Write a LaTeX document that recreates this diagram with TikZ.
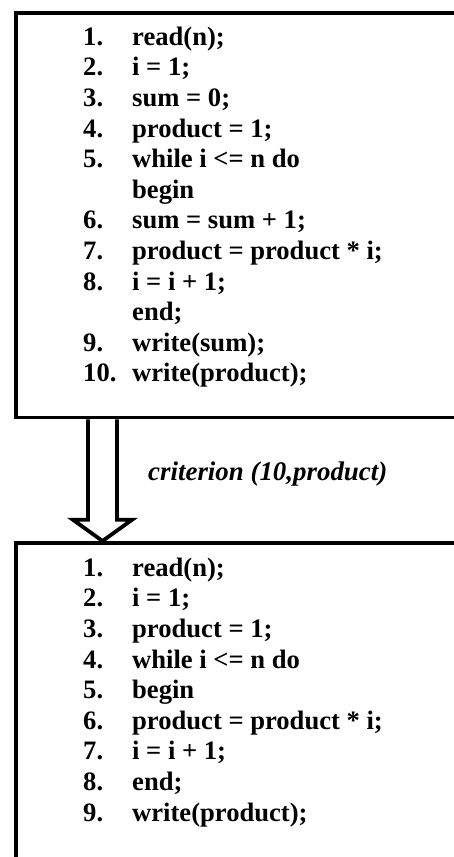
\documentclass[tikz,border=0pt]{standalone}
\usepackage{fontspec}
\setmainfont{Liberation Serif}
\usetikzlibrary{positioning,calc}
\tikzset{
  codebox/.style={rectangle,draw=black,line width=3.8pt,fill=white,anchor=north west,inner sep=0pt},
  listing/.style={anchor=base west,inner sep=0pt,font=\fontsize{26.6pt}{30.6pt}\selectfont\bfseries},
  hollow/.style={draw=black,line width=3.8pt,fill=white,line join=miter},
  critlabel/.style={anchor=base west,inner sep=0pt,font=\fontsize{26.9pt}{30pt}\selectfont\bfseries\itshape}
}
\newcommand{\lnum}[1]{\makebox[49pt][l]{#1}}
\begin{document}
\begin{tikzpicture}[x=1pt,y=1pt]
  \useasboundingbox (0,0) rectangle (454,-857);
  \node[codebox,minimum width=470pt,minimum height=404.5pt] (orig) at (14,-11) {};
  \node[codebox,minimum width=470pt,minimum height=340pt] (slice) at (14,-541) {};

  \node[listing] (origtext) at (83,-45.2) {%
    \begin{tabular}[t]{@{}l@{}}
      \lnum{1.}read(n);\\
      \lnum{2.}i = 1;\\
      \lnum{3.}sum = 0;\\
      \lnum{4.}product = 1;\\
      \lnum{5.}while i <= n do\\
      \lnum{}begin\\
      \lnum{6.}sum = sum + 1;\\
      \lnum{7.}product = product * i;\\
      \lnum{8.}i = i + 1;\\
      \lnum{}end;\\
      \lnum{9.}write(sum);\\
      \lnum{10.}write(product);
    \end{tabular}};
  \node[listing] (slicetext) at (83,-576.2) {%
    \begin{tabular}[t]{@{}l@{}}
      \lnum{1.}read(n);\\
      \lnum{2.}i = 1;\\
      \lnum{3.}product = 1;\\
      \lnum{4.}while i <= n do\\
      \lnum{5.}begin\\
      \lnum{6.}product = product * i;\\
      \lnum{7.}i = i + 1;\\
      \lnum{8.}end;\\
      \lnum{9.}write(product);
    \end{tabular}};

  % slicing arrow
  \coordinate (tail) at ($(orig.south west)+(88.5,0)$);
  \coordinate (tip) at ($(slice.north west)+(88.5,0)$);
  \draw[hollow] ($(tail)+(-14.5,0)$) -- ($(tail)+(-14.5,-100.5)$) -- ($(tail)+(-29.5,-100.5)$)
    -- (tip) -- ($(tail)+(29.5,-100.5)$) -- ($(tail)+(14.5,-100.5)$) -- ($(tail)+(14.5,0)$);
  \node[critlabel] (crit) at (148,-480) {criterion (10,product)};
\end{tikzpicture}
\end{document}
